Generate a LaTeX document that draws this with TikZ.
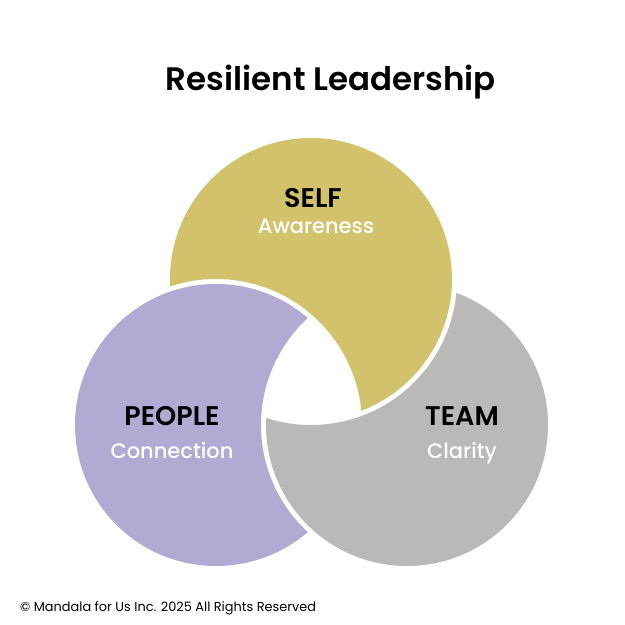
\documentclass[tikz,border=0pt]{standalone}
\usepackage{fontspec}
\setmainfont{Poppins}
\newfontfamily\semibfont{Poppins}[UprightFont={* SemiBold}]
\newfontfamily\medfont{Poppins}[UprightFont={* Medium}]
\definecolor{selfc}{HTML}{D3C26C}
\definecolor{peoplec}{HTML}{B3AAD4}
\definecolor{teamc}{HTML}{BAB9B8}
\tikzset{
  titletxt/.style={font=\fontsize{32.5}{36}\semibfont, anchor=base, text=black, inner sep=0pt},
  headtxt/.style={font=\fontsize{27}{30}\semibfont, anchor=base, text=black, inner sep=0pt},
  subtxt/.style={font=\fontsize{21}{24}\medfont, anchor=base, text=white, inner sep=0pt},
  foottxt/.style={font=\fontsize{12.9}{16}\selectfont, anchor=base west, text=black, inner sep=0pt}
}
\begin{document}
\begin{tikzpicture}[x=1pt,y=1pt]
\fill[white] (0,0) rectangle (625,625);
\useasboundingbox (0,0) rectangle (625,625);
\coordinate (cY) at (311,346);
\coordinate (cP) at (216,200);
\coordinate (cG) at (407,200);
% SELF = Y minus enlarged P
\begin{scope}[even odd rule]
  \clip (-10,-10) -- (-10,635) -- (635,635) -- (635,-10) -- cycle (cP) circle[radius=146];
  \fill[selfc] (cY) circle[radius=141];
\end{scope}
% PEOPLE = P minus enlarged G
\begin{scope}[even odd rule]
  \clip (-10,-10) -- (-10,635) -- (635,635) -- (635,-10) -- cycle (cG) circle[radius=146];
  \fill[peoplec] (cP) circle[radius=141];
\end{scope}
% TEAM = G minus enlarged Y
\begin{scope}[even odd rule]
  \clip (-10,-10) -- (-10,635) -- (635,635) -- (635,-10) -- cycle (cY) circle[radius=146];
  \fill[teamc] (cG) circle[radius=141];
\end{scope}
\node[titletxt] (title) at (331,534) {Resilient Leadership};
\node[headtxt] (self) at (313,417) {SELF};
\node[subtxt] (selfsub) at (316,391) {Awareness};
\node[headtxt] (people) at (172,199) {PEOPLE};
\node[subtxt] (peoplesub) at (172,166) {Connection};
\node[headtxt] (team) at (462,199) {TEAM};
\node[subtxt] (teamsub) at (462,166) {Clarity};
\node[foottxt] (foot) at (20,13) {© Mandala for Us Inc. 2025 All Rights Reserved};
\end{tikzpicture}
\end{document}
